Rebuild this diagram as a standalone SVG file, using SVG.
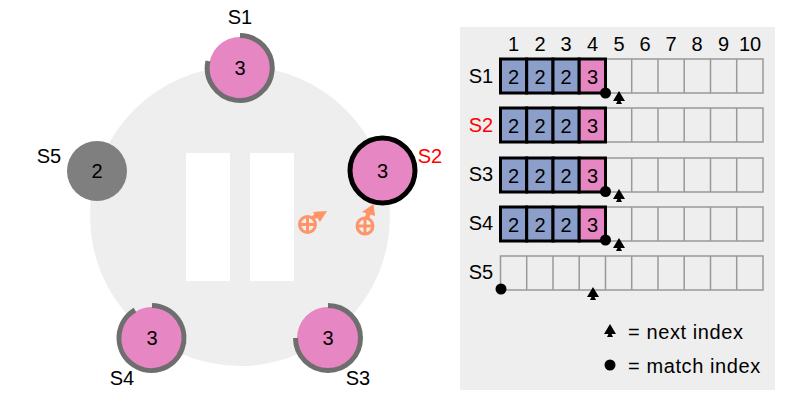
<svg xmlns="http://www.w3.org/2000/svg" width="788" height="405" viewBox="0 0 788 405">
<style>
text{font-family:"Liberation Sans",Arial,sans-serif;font-size:20px;fill:#000;text-anchor:middle}
.pink{fill:#e686c2}
.ring{fill:none;stroke:#6e6e6e;stroke-width:5}
.cell{fill:none;stroke:#999;stroke-width:1.500}
.b{fill:#8c9fcb;stroke:#000;stroke-width:3}
.p{fill:#e686c2;stroke:#000;stroke-width:3}
.o{fill:none;stroke:#ff9468;stroke-width:3}
.leg{text-anchor:start;letter-spacing:.6px}
</style>
<defs>
<path id="next" d="M0-7L6 3H1.500L3 6H-3L-1.500 3H-6Z" fill="#000"/>
<g id="row">
<path class="cell" d="M500.500 0H763V34H500.500ZM526.700 0V34M553 0V34M579.200 0V34M605.500 0V34M631.700 0V34M658 0V34M684.200 0V34M710.500 0V34M736.700 0V34"/>
</g>
<g id="filled">
<use href="#row"/>
<rect class="b" x="500.500" width="26.200" height="34"/>
<rect class="b" x="526.700" width="26.300" height="34"/>
<rect class="b" x="553" width="26.200" height="34"/>
<rect class="p" x="579.200" width="26.300" height="34"/>
<text x="513.500" y="24.500">2</text><text x="540" y="24.500">2</text><text x="566" y="24.500">2</text><text x="592.500" y="24.500">3</text>
</g>
<g id="xor">
<circle class="o" r="8"/><path class="o" d="M-8 0H8M0-8V8"/>
</g>
</defs>
<ellipse cx="240" cy="216" rx="150" ry="150" fill="#eee"/>
<rect x="186" y="153" width="44" height="128" fill="#fff"/>
<rect x="250" y="153" width="44" height="128" fill="#fff"/>
<g id="rpcs">
<use href="#xor" x="307.500" y="224.500"/>
<path d="M313 218L320 213" stroke="#ff9468" stroke-width="4.500"/>
<path d="M327 211L313 212L320 222Z" fill="#ff9468"/>
<use href="#xor" x="365" y="226"/>
<path d="M367 218L369 212" stroke="#ff9468" stroke-width="4.500"/>
<path d="M373.500 204L362 212L375 216Z" fill="#ff9468"/>
</g>
<g id="S1"><circle class="pink" cx="240" cy="68" r="31"/><path class="ring" d="M240 35.500A32.500 32.500 0 1 1 208 61"/><text x="240" y="75">3</text><text x="240" y="24">S1</text></g>
<g id="S2"><circle class="pink" cx="382.500" cy="170.500" r="32.500" stroke="#000" stroke-width="5"/><text x="382.500" y="177.500">3</text><text x="430" y="163" style="fill:#f00">S2</text></g>
<g id="S3"><circle class="pink" cx="328" cy="338" r="31"/><path class="ring" d="M328 305.500A32.500 32.500 0 1 1 295.500 338"/><text x="328" y="345">3</text><text x="358" y="385">S3</text></g>
<g id="S4"><circle class="pink" cx="152" cy="338" r="31"/><path class="ring" d="M152 305.500A32.500 32.500 0 1 1 135 310"/><text x="152" y="345">3</text><text x="122" y="385">S4</text></g>
<g id="S5"><circle cx="97" cy="171" r="30" fill="#7f7f7f"/><text x="97" y="178">2</text><text x="49" y="163">S5</text></g>
<g id="logs">
<rect x="460" y="27" width="315" height="363" fill="#eee"/>
<text x="513.500" y="50.500">1</text><text x="540" y="50.500">2</text><text x="566" y="50.500">3</text><text x="592.500" y="50.500">4</text><text x="619" y="50.500">5</text><text x="645" y="50.500">6</text><text x="671" y="50.500">7</text><text x="697" y="50.500">8</text><text x="723.500" y="50.500">9</text><text x="750" y="50.500">10</text>
<text x="481" y="83">S1</text><text x="481" y="132" style="fill:#f00">S2</text><text x="481" y="181">S3</text><text x="481" y="230">S4</text><text x="481" y="279">S5</text>
<use href="#filled" y="59"/><use href="#filled" y="108"/><use href="#filled" y="158"/><use href="#filled" y="207"/><use href="#row" y="256"/>
<circle cx="605.500" cy="93" r="5.500"/><circle cx="605.500" cy="191.500" r="5.500"/><circle cx="605.500" cy="240" r="5.500"/><circle cx="501" cy="289" r="5.500"/>
<use href="#next" x="619" y="98"/><use href="#next" x="619" y="196"/><use href="#next" x="619" y="245"/><use href="#next" x="593" y="294"/>
<use href="#next" x="610" y="331"/><circle cx="610" cy="365" r="5.500"/>
<text class="leg" x="628" y="339">= next index</text>
<text class="leg" x="628" y="372.500">= match index</text>
</g>
</svg>
